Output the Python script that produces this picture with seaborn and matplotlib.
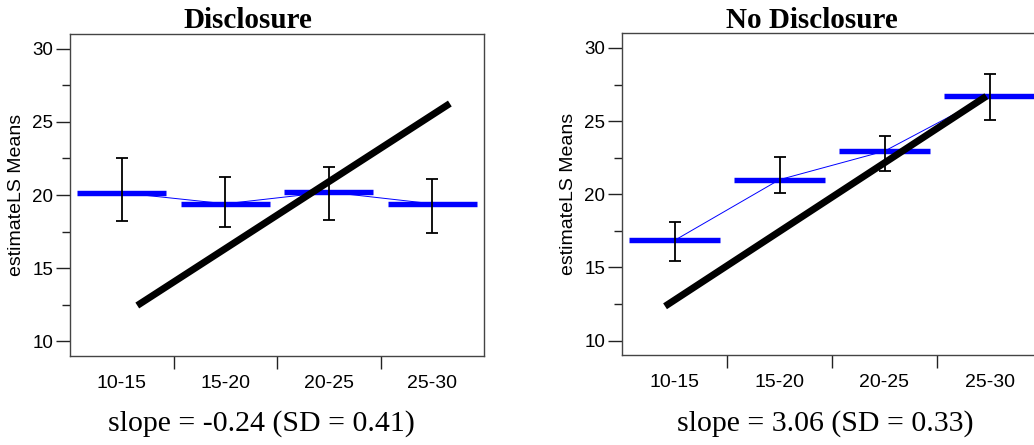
import numpy as np
import pandas as pd
import seaborn as sns
import matplotlib.pyplot as plt
from matplotlib.ticker import MultipleLocator, FixedLocator

# ---------------- datos ----------------
grupos = ["10-15", "15-20", "20-25", "25-30"]

disc_media = [20.15, 19.4, 20.2, 19.4]
disc_inf = [18.2, 17.8, 18.3, 17.4]
disc_sup = [22.5, 21.25, 21.9, 21.1]
disc_recta_x = [0.15, 3.17]
disc_recta_y = [12.45, 26.25]

nodisc_media = [16.85, 21.0, 22.95, 26.75]
nodisc_inf = [15.45, 20.1, 21.6, 25.05]
nodisc_sup = [18.1, 22.55, 23.95, 28.25]
nodisc_recta_x = [-0.09, 2.97]
nodisc_recta_y = [12.35, 26.7]

titulos = ["Disclosure", "No Disclosure"]
pendientes = ["slope = -0.24 (SD = 0.41)", "slope = 3.06 (SD = 0.33)"]

# ---------------- estilo ----------------
sns.set_theme(style="ticks")
plt.rcParams['font.family'] = ['Liberation Sans', 'DejaVu Sans']
plt.rcParams['text.color'] = 'black'
plt.rcParams['axes.labelcolor'] = 'black'
plt.rcParams['xtick.color'] = 'black'
plt.rcParams['ytick.color'] = 'black'

fig = plt.figure(figsize=(10.34, 4.45), dpi=100)
ax1 = fig.add_axes([70 / 1034, 89 / 445, 414 / 1034, 322 / 445])
ax2 = fig.add_axes([622 / 1034, 89.7 / 445, 420 / 1034, 322 / 445])


def panel(ax, media, inf, sup, rx, ry):
    pos = np.arange(len(grupos))
    df = pd.DataFrame({'pos': pos, 'media': media})
    # linea fina que une las medias
    sns.lineplot(data=df, x='pos', y='media', ax=ax, color='#0000ff', lw=0.7, zorder=2)
    # barras horizontales azules
    ax.hlines(media, pos - 0.43, pos + 0.43, color='#0000ff', lw=3.9, zorder=3)
    # intervalos
    err = [np.array(media) - np.array(inf), np.array(sup) - np.array(media)]
    ax.errorbar(pos, media, yerr=err, fmt='none', ecolor='black', elinewidth=1.3,
                capsize=4, capthick=1.3, zorder=4)
    # recta negra
    sns.lineplot(x=rx, y=ry, ax=ax, color='black', lw=5, zorder=5, solid_capstyle='butt')

    ax.set_xlim(-0.5, 3.5)
    ax.set_ylim(9, 31)
    ax.xaxis.set_major_locator(FixedLocator(pos))
    ax.set_xticklabels(grupos, fontsize=14)
    ax.xaxis.set_minor_locator(FixedLocator([0.5, 1.5, 2.5]))
    ax.tick_params(axis='x', which='major', length=0, pad=13.5)
    ax.tick_params(axis='x', which='minor', length=9, width=1, color='#222222', direction='out')
    ax.yaxis.set_major_locator(MultipleLocator(5))
    ax.yaxis.set_minor_locator(MultipleLocator(2.5))
    ax.tick_params(axis='y', which='major', length=10, width=1, color='#222222', labelsize=13.5, pad=2)
    ax.tick_params(axis='y', which='minor', length=6, width=1, color='#222222')
    ax.set_xlabel('')
    ax.set_ylabel('estimateLS Means', fontsize=14)
    ax.yaxis.set_label_coords(-0.108, 0.5)
    for s in ax.spines.values():
        s.set_visible(True)
        s.set_color('#444444')
        s.set_linewidth(1)


panel(ax1, disc_media, disc_inf, disc_sup, disc_recta_x, disc_recta_y)
panel(ax2, nodisc_media, nodisc_inf, nodisc_sup, nodisc_recta_x, nodisc_recta_y)

serif = ['Liberation Serif', 'DejaVu Serif']
fig.text(248 / 1034, 1 - 20 / 445, titulos[0], ha='center', va='center',
         fontsize=21, fontweight='bold', family=serif)
fig.text(812 / 1034, 1 - 20 / 445, titulos[1], ha='center', va='center',
         fontsize=21, fontweight='bold', family=serif)
fig.text(261 / 1034, 1 - 424 / 445, pendientes[0], ha='center', va='center',
         fontsize=21.5, family=serif)
fig.text(825 / 1034, 1 - 424 / 445, pendientes[1], ha='center', va='center',
         fontsize=21.5, family=serif)

fig.savefig('out.png', dpi=100, facecolor='white')
